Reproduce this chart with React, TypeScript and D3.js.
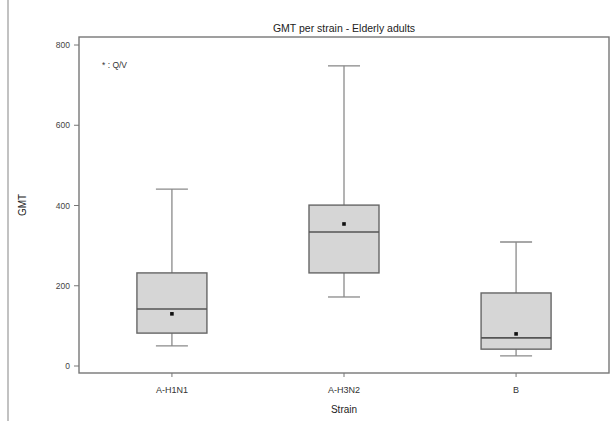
import * as d3 from 'd3';

const strains = ['A-H1N1', 'A-H3N2', 'B'];
const whiskerLow = [50, 172, 25];
const q1 = [82, 232, 42];
const median = [142, 334, 70];
const q3 = [232, 401, 182];
const whiskerHigh = [441, 748, 309];
const means = [130, 354, 80];
const yTicks = [0, 200, 400, 600, 800];

const W = 612;
const H = 421;
const frame = { left: 79, right: 609, top: 37, bottom: 373 };

export default function App() {
  const x = d3.scalePoint<string>().domain(strains).range([frame.left, frame.right]).padding(0.54);
  const y = d3.scaleLinear().domain([0, 800]).range([366, 45]);
  const boxW = 70;
  const capW = 32;
  const font = 'Liberation Sans, Arial, sans-serif';
  const midX = (frame.left + frame.right) / 2;

  return (
    <svg width={W} height={H} style={{ position: 'absolute', left: 0, top: 0, background: '#fff' }} fontFamily={font}>
      {/* left edge line of the figure */}
      <line x1={8} x2={8} y1={0} y2={H} stroke="#999" strokeWidth={1.2} />

      <text x={midX} y={32} textAnchor="middle" fontSize={10.5} fill="#222">GMT per strain - Elderly adults</text>

      {/* boxes */}
      {strains.map((s, i) => {
        const cx = x(s)!;
        return (
          <g key={s}>
            <line x1={cx} x2={cx} y1={y(whiskerHigh[i])} y2={y(q3[i])} stroke="#8a8a8a" strokeWidth={1.3} />
            <line x1={cx} x2={cx} y1={y(q1[i])} y2={y(whiskerLow[i])} stroke="#8a8a8a" strokeWidth={1.3} />
            <line x1={cx - capW / 2} x2={cx + capW / 2} y1={y(whiskerHigh[i])} y2={y(whiskerHigh[i])} stroke="#8a8a8a" strokeWidth={1.3} />
            <line x1={cx - capW / 2} x2={cx + capW / 2} y1={y(whiskerLow[i])} y2={y(whiskerLow[i])} stroke="#8a8a8a" strokeWidth={1.3} />
            <rect x={cx - boxW / 2} y={y(q3[i])} width={boxW} height={y(q1[i]) - y(q3[i])} fill="#d6d6d6" stroke="#666" strokeWidth={1.4} />
            <line x1={cx - boxW / 2} x2={cx + boxW / 2} y1={y(median[i])} y2={y(median[i])} stroke="#555" strokeWidth={1.6} />
            <rect x={cx - 1.8} y={y(means[i]) - 1.8} width={3.6} height={3.6} fill="#111" />
          </g>
        );
      })}

      {/* frame */}
      <rect x={frame.left} y={frame.top} width={frame.right - frame.left} height={frame.bottom - frame.top} fill="none" stroke="#777" strokeWidth={1.4} />

      {/* y axis */}
      {yTicks.map((t) => (
        <g key={t}>
          <line x1={frame.left - 5} x2={frame.left} y1={y(t)} y2={y(t)} stroke="#777" strokeWidth={1} />
          <text x={frame.left - 9} y={y(t) + 3} textAnchor="end" fontSize={8.5} fill="#444">{t}</text>
        </g>
      ))}
      <text transform={`translate(26,${(frame.top + frame.bottom) / 2}) rotate(-90)`} textAnchor="middle" fontSize={10} fill="#222">GMT</text>

      {/* x axis */}
      {strains.map((s) => (
        <g key={s}>
          <line x1={x(s)!} x2={x(s)!} y1={frame.bottom} y2={frame.bottom + 4} stroke="#777" strokeWidth={1} />
          <text x={x(s)!} y={393} textAnchor="middle" fontSize={9} fill="#333">{s}</text>
        </g>
      ))}
      <text x={midX} y={413} textAnchor="middle" fontSize={10} fill="#222">Strain</text>

      <text x={102} y={68} fontSize={8.5} fill="#333">* : Q/V</text>
    </svg>
  );
}
